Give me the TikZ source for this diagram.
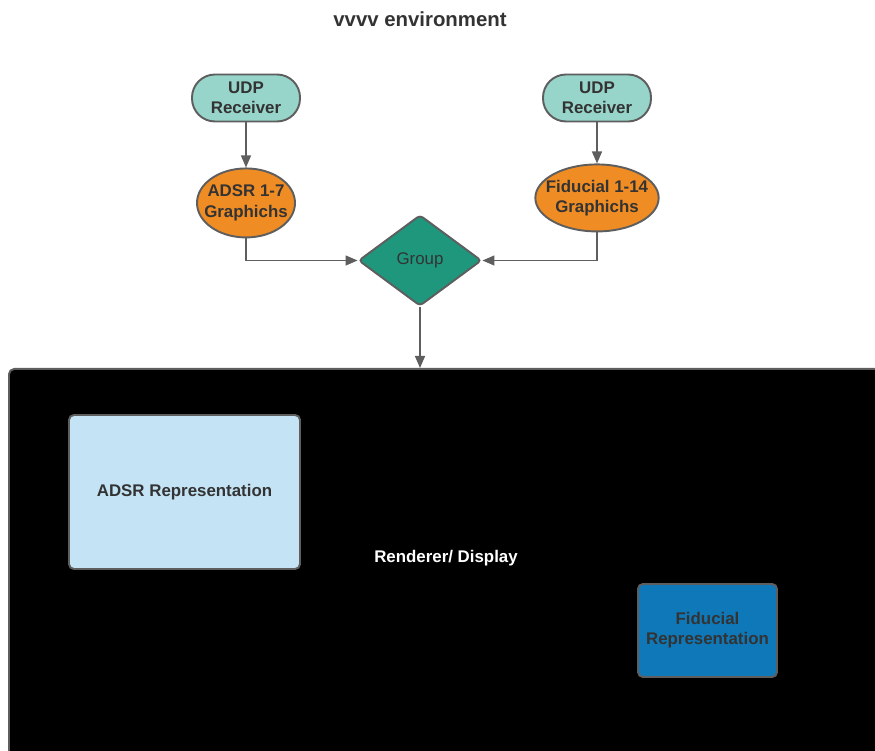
\documentclass[tikz,border=0pt]{standalone}
\usepackage{fontspec}
\setmainfont{Liberation Sans}
\usetikzlibrary{positioning,arrows.meta,shapes.geometric}
\definecolor{edgegray}{HTML}{5E5E5E}
\definecolor{txtgray}{HTML}{333333}
\definecolor{udpteal}{HTML}{97D5CA}
\definecolor{gfxorange}{HTML}{F08C24}
\definecolor{grpgreen}{HTML}{1E977D}
\definecolor{adsrblue}{HTML}{C4E4F6}
\definecolor{fidblue}{HTML}{0E78B9}
\tikzset{
  base/.style   ={draw=edgegray, line width=1.1pt, align=center, text=txtgray,
                  font=\fontsize{9.6}{11.5}\selectfont\bfseries},
  recv/.style   ={base, fill=udpteal, rounded corners=4.6mm,
                  minimum width=21.6mm, minimum height=9.4mm, inner sep=0pt},
  gfx/.style    ={base, ellipse, fill=gfxorange, inner xsep=-1.5mm, inner ysep=0pt},
  grp/.style    ={base, diamond, fill=grpgreen, rounded corners=2pt, inner sep=0pt,
                  minimum width=24.6mm, minimum height=18.2mm,
                  font=\fontsize{9.6}{11.5}\selectfont},
  rep/.style    ={base, rounded corners=2.8pt, inner sep=0pt},
  fl/.style     ={-{Triangle[length=2.4mm,width=2mm]}, draw=edgegray, line width=0.8pt},
}

\begin{document}
\begin{tikzpicture}
  \useasboundingbox (0,0) rectangle (17.5,-15.02);
  \clip (0,0) rectangle (17.5,-15.02);

  \node[font=\fontsize{11.6}{14}\selectfont\bfseries, text=txtgray] (title)
        at (8.4,-0.38) {vvvv environment};

  % --- receivers and graphics ----------------------------------------
  \node[recv] (udpL) at (4.92,-1.96) {UDP\\Receiver};
  \node[recv] (udpR) at (11.94,-1.96) {UDP\\Receiver};
  \node[gfx, minimum width=19.6mm, minimum height=13.8mm, below=9mm of udpL] (adsr)
        {ADSR 1-7\\Graphichs};
  \node[gfx, minimum width=24.6mm, minimum height=13.4mm, below=8.2mm of udpR] (fid)
        {Fiducial 1-14\\Graphichs};
  \node[grp] (group) at (8.4,-5.21) {Group};

  % --- renderer -------------------------------------------------------
  \node[draw=edgegray, line width=1.1pt, fill=black, rounded corners=3pt,
        minimum width=175.4mm, minimum height=78.4mm, anchor=north west] (disp)
        at (0.16,-7.36) {};
  \node[font=\fontsize{9.6}{11.5}\selectfont\bfseries, text=white] (dlabel)
        at (8.92,-11.16) {Renderer/ Display};
  \node[rep, fill=adsrblue, minimum width=46.2mm, minimum height=30.8mm] (adsrrep)
        at (3.69,-9.84) {ADSR Representation};
  \node[rep, fill=fidblue, minimum width=27.8mm, minimum height=18.6mm] (fidrep)
        at (14.15,-12.61) {Fiducial\\Representation};

  % --- arrows ---------------------------------------------------------
  \draw[fl] (udpL) -- (adsr);
  \draw[fl] (udpR) -- (fid);
  \draw[fl] (adsr.south) |- (group.west);
  \draw[fl] (fid.south) |- (group.east);
  \draw[fl] (group.south) -- (group.south |- disp.north);
\end{tikzpicture}
\end{document}
